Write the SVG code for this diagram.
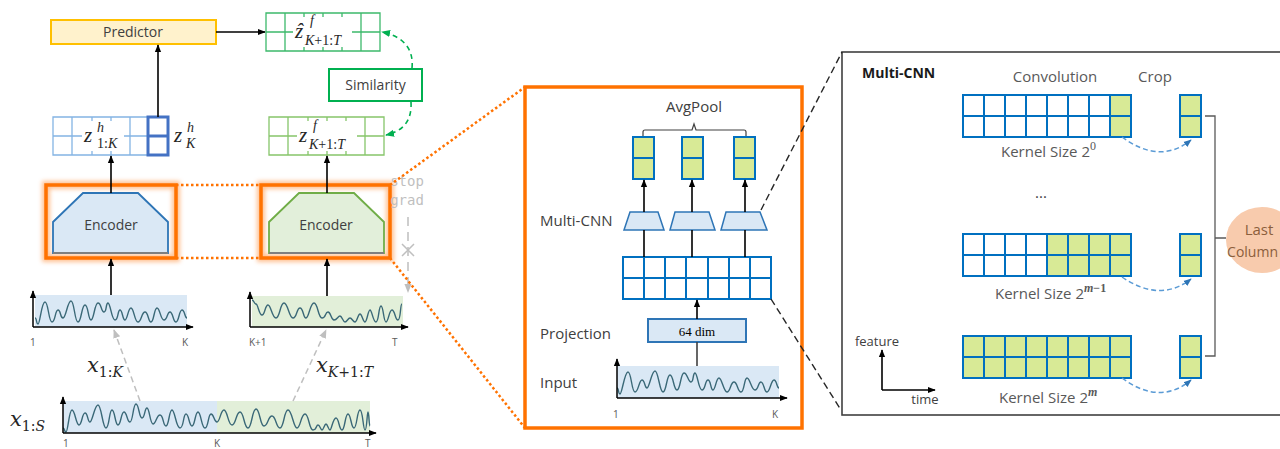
<svg xmlns="http://www.w3.org/2000/svg" xmlns:xlink="http://www.w3.org/1999/xlink" width="1280" height="449" viewBox="0 0 1280 449">
<style>
.t{font-family:"Open Sans","Noto Sans",sans-serif;fill:#404040}
.m{font-family:"Liberation Serif","DejaVu Serif",serif;font-style:italic;fill:#262626}
.mx{font-family:"DejaVu Serif","Liberation Serif",serif;font-style:italic;fill:#262626}
.up{font-style:normal}
.sm{font-family:"Open Sans","Noto Sans",sans-serif;fill:#595959;font-size:10px}
.ax{stroke:#000;stroke-width:1.5;fill:none}
.wave{fill:none;stroke:#3a6877;stroke-width:1.4}
.bl{stroke:#0070c0;stroke-width:2;fill:none}
.arr{stroke:#000;stroke-width:1.6;fill:none}
.gd{stroke:#bfbfbf;stroke-width:1.5;fill:none;stroke-dasharray:6 4}
.od{stroke:#ff7200;stroke-width:2.5;fill:none;stroke-dasharray:2.5 2.5}
.ob{stroke:#ff7200;stroke-width:3.5;fill:none}
.glow{stroke:#ffa766;stroke-width:8;fill:none;opacity:.7}
.bd{stroke:#5b9bd5;stroke-width:1.5;fill:none;stroke-dasharray:5 3}
.kd{stroke:#262626;stroke-width:1.4;fill:none;stroke-dasharray:7 4}
</style>
<defs>
<filter id="blur" x="-20%" y="-30%" width="140%" height="160%"><feGaussianBlur stdDeviation="2.2"/></filter>
<marker id="ab" viewBox="0 0 10 10" refX="9" refY="5" markerWidth="8" markerHeight="8" markerUnits="userSpaceOnUse" orient="auto"><path d="M0,1 L10,5 L0,9 z" fill="#000"/></marker>
<marker id="ag" viewBox="0 0 10 10" refX="9" refY="5" markerWidth="9" markerHeight="9" markerUnits="userSpaceOnUse" orient="auto"><path d="M0,1 L10,5 L0,9 z" fill="#bfbfbf"/></marker>
<marker id="agr" viewBox="0 0 10 10" refX="9" refY="5" markerWidth="9" markerHeight="9" markerUnits="userSpaceOnUse" orient="auto"><path d="M0,1 L10,5 L0,9 z" fill="#00b050"/></marker>
<marker id="abl" viewBox="0 0 10 10" refX="9" refY="5" markerWidth="8" markerHeight="8" markerUnits="userSpaceOnUse" orient="auto"><path d="M0,1 L10,5 L0,9 z" fill="#2e75b6"/></marker>
<g id="g8"><path d="M0,0H168V42H0Z M21,0V42M42,0V42M63,0V42M84,0V42M105,0V42M126,0V42M147,0V42M0,21H168" class="bl"/></g>
<g id="cropbox"><rect width="21" height="42" fill="#d8ea96" stroke="#0070c0" stroke-width="2"/><path d="M0,21H21" class="bl"/></g>
</defs>
<rect width="1280" height="449" fill="#fff"/>

<!-- left: plots -->
<g id="plot-hist">
<rect x="35" y="295" width="152" height="32" fill="#dae8f5"/>
<path class="wave" d="M35,318 C37,318 36,324 38,324 S41.5,302 45,302 S48.5,322 52,322 S55,310 58,310 S60,318 63,318 S67.5,301 71,301 S74.5,322 78,322 S81.5,305 85,305 S88,320 91,320 S94.5,303 98,303 S101,312 104,312 S105.5,303 108,303 S111.5,320 115,320 S117.5,310 120,310 S122.5,320 125,320 S128,308 131,308 S134.5,322 138,322 S141.5,312 145,312 S148,322 151,322 S154,308 157,308 S160.5,320 164,320 S167,312 170,312 S173,322 176,322 S179,310 182,310 S184.5,318 187,318"/>
<path class="ax" d="M33,327V291" marker-end="url(#ab)"/>
<path class="ax" d="M33,327H193" marker-end="url(#ab)"/>
<text class="sm" x="30" y="346">1</text>
<text class="sm" x="182" y="346">K</text>
</g>
<g id="plot-fut">
<rect x="252" y="296" width="151" height="31" fill="#e2efd9"/>
<path class="wave" d="M252,300 C254,300 254,304 256,304 S259,315 262,315 S265,305 268,305 S272,318 276,318 S280,303 284,303 S289,318 293,318 S296.5,308 300,308 S303,318 306,318 S310,303 314,303 S318,318 322,318 S325,312 328,312 S331,320 334,320 S338,316 340,316 S343,322 345,322 S348,318 350,318 S353,322 355,322 S358,314 360,314 S363,322 365,322 S368,310 370,310 S373,322 376,322 S378.5,306 381,306 S383.5,322 386,322 S389,310 392,310 S395,320 398,320 S400,304 402,304"/>
<path class="ax" d="M250,327V292" marker-end="url(#ab)"/>
<path class="ax" d="M250,327H408" marker-end="url(#ab)"/>
<text class="sm" x="249" y="346">K+1</text>
<text class="sm" x="392" y="346">T</text>
</g>
<g id="plot-full">
<rect x="63" y="401" width="154" height="32" fill="#dae8f5"/>
<rect x="217" y="401" width="153" height="32" fill="#e2efd9"/>
<path class="wave" d="M63,428 C65,428 64,432 66,432 S69,410 72,410 S76,425 79,425 S82,413 85,413 S87.5,422 90,422 S94.5,405 98,405 S102.5,428 106,428 S109,410 112,410 S115,425 118,425 S121,412 124,412 S127,422 130,422 S133,404 136,404 S139,418 142,418 S144.5,408 147,408 S150,424 153,424 S156.5,415 160,415 S163,426 166,426 S169,410 172,410 S176,428 180,428 S183,414 186,414 S189,426 192,426 S195,412 198,412 S201.5,428 205,428 S208,414 211,414 S214,422 217,422 S220.5,410 224,410 S228,425 232,425 S236,412 240,412 S244,428 248,428 S252,409 256,409 S260,426 264,426 S268,416 272,416 S276,428 280,428 S284,410 288,410 S293.5,428 297,428 S301,414 305,414 S309,430 313,430 S316,425 318,425 S320.5,430 322,430 S324.5,424 326,424 S328.5,430 330,430 S333,418 336,418 S339,430 342,430 S345,414 348,414 S351,428 354,428 S357,410 360,410 S363,430 365,430 S367,412 368,412 S369,426 370,426"/>
<path class="ax" d="M63,433V397" marker-end="url(#ab)"/>
<path class="ax" d="M63,433H376" marker-end="url(#ab)"/>
<text class="sm" x="63" y="447" font-size="9">1</text>
<text class="sm" x="214" y="447" font-size="9">K</text>
<text class="sm" x="365" y="447" font-size="9">T</text>
</g>
<g id="lbl-x">
<text class="mx" x="10" y="426" font-size="21">x<tspan font-size="14" dy="5"><tspan class="up">1:</tspan>S</tspan></text>
<text class="mx" x="87" y="372" font-size="21">x<tspan font-size="14" dy="5"><tspan class="up">1:</tspan>K</tspan></text>
<text class="mx" x="316" y="372" font-size="21">x<tspan font-size="14" dy="5">K<tspan class="up">+1:</tspan>T</tspan></text>
</g>

<!-- encoders -->
<g id="enc-left">
<rect x="46" y="185" width="130" height="73" class="glow" filter="url(#blur)"/>
<polygon points="53,253 53,222 83,193 138,193 168,222 168,253" fill="#dae8f5" stroke="#2e75b6" stroke-width="1.8"/>
<path d="M53,253H168" stroke="#7f7f7f" stroke-width="1.8"/>
<rect x="46" y="185" width="130" height="73" class="ob"/>
<text class="t" x="111" y="230" font-size="14" text-anchor="middle">Encoder</text>
</g>
<g id="enc-right">
<rect x="261" y="185" width="129" height="73" class="glow" filter="url(#blur)"/>
<polygon points="269,253 269,222 299,193 354,193 384,222 384,253" fill="#e2efda" stroke="#70ad47" stroke-width="1.8"/>
<path d="M269,253H384" stroke="#7f7f7f" stroke-width="1.8"/>
<rect x="261" y="185" width="129" height="73" class="ob"/>
<text class="t" x="326" y="230" font-size="14" text-anchor="middle">Encoder</text>
</g>

<!-- z grids -->
<g id="z-hist">
<path d="M53,117H148V155H53Z M72,117V155M92,117V155M111,117V155M130,117V155M53,136H148" fill="#fff" stroke="#84b4e4" stroke-width="1.3"/>
<rect x="82" y="121" width="42" height="30" fill="#fff"/>
<text class="m" x="84" y="142" font-size="21">z</text>
<text class="m" x="97" y="132" font-size="14">h</text>
<text class="m" x="97" y="148" font-size="14"><tspan class="up">1:</tspan>K</text>
<rect x="148" y="117" width="20" height="38" fill="#fff" stroke="#4472c4" stroke-width="3"/>
<path d="M148,136H168" stroke="#4472c4" stroke-width="3"/>
<text class="m" x="174" y="142" font-size="21">z</text>
<text class="m" x="187" y="132" font-size="14">h</text>
<text class="m" x="186" y="148" font-size="14">K</text>
</g>
<g id="z-pred">
<path d="M266,13H380V51H266Z M285,13V51M304,13V51M323,13V51M342,13V51M361,13V51M266,32H380" fill="#fff" stroke="#3cb96b" stroke-width="1.3"/>
<rect x="293" y="17" width="59" height="30" fill="#fff"/>
<text class="m" x="295" y="38" font-size="21">z</text>
<text class="m" x="296" y="38" font-size="21">ˆ</text>
<text class="m" x="310" y="25" font-size="14">f</text>
<text class="m" x="305" y="45" font-size="14">K<tspan class="up">+1:</tspan>T</text>
</g>
<g id="z-fut">
<path d="M269,117H384V155H269Z M288,117V155M308,117V155M327,117V155M346,117V155M365,117V155M269,136H384" fill="#fff" stroke="#86c56a" stroke-width="1.3"/>
<rect x="297" y="121" width="60" height="30" fill="#fff"/>
<text class="m" x="299" y="142" font-size="21">z</text>
<text class="m" x="313" y="130" font-size="14">f</text>
<text class="m" x="309" y="149" font-size="14">K<tspan class="up">+1:</tspan>T</text>
</g>
<g id="predictor">
<rect x="51" y="20" width="165" height="24" fill="#fff2cc" stroke="#ffc000" stroke-width="2"/>
<text class="t" x="133" y="37" font-size="14" text-anchor="middle">Predictor</text>
</g>
<g id="similarity">
<rect x="329" y="69" width="93" height="32" fill="#fff" stroke="#00b050" stroke-width="2"/>
<text class="t" x="375.5" y="90" font-size="14" text-anchor="middle">Similarity</text>
</g>
<g id="stopgrad">
<text x="407" y="186" font-family="DejaVu Sans Mono,Liberation Mono,monospace" font-size="14" fill="#bfbfbf" text-anchor="middle">stop</text>
<text x="407" y="205" font-family="DejaVu Sans Mono,Liberation Mono,monospace" font-size="14" fill="#bfbfbf" text-anchor="middle">grad</text>
</g>

<!-- middle panel -->
<g id="panel-mid">
<rect x="525" y="87" width="277" height="341" class="ob" stroke-width="4"/>
<text class="t" x="694" y="112" font-size="15" text-anchor="middle">AvgPool</text>
<path d="M643,136V132Q643,130 645,130H692L694,124L696,130H744Q746,130 746,132V136" stroke="#404040" stroke-width="1.2" fill="none"/>
<use href="#cropbox" x="633" y="137"/>
<use href="#cropbox" x="682" y="137"/>
<use href="#cropbox" x="734" y="137"/>
<text class="t" x="540" y="226" font-size="15">Multi-CNN</text>
<polygon points="630,212 658,212 664,230 624,230" fill="#dae8f5" stroke="#2e75b6" stroke-width="1.5"/>
<polygon points="675,212 709,212 715,230 670,230" fill="#dae8f5" stroke="#2e75b6" stroke-width="1.5"/>
<polygon points="726,212 760,212 767,230 721,230" fill="#dae8f5" stroke="#2e75b6" stroke-width="1.5"/>
<rect x="623" y="257" width="148" height="42" fill="#fff"/>
<path d="M623,257H771V299H623Z M644,257V299M665,257V299M686,257V299M708,257V299M729,257V299M750,257V299M623,278H771" class="bl"/>
<text class="t" x="540" y="339" font-size="15">Projection</text>
<rect x="648" y="319" width="98" height="23" fill="#dae8f5" stroke="#2e75b6" stroke-width="2"/>
<text x="697" y="336" font-family="Liberation Serif,serif" font-size="13" fill="#000" text-anchor="middle">64 dim</text>
<text class="t" x="540" y="388" font-size="15">Input</text>
<rect x="617" y="366" width="162" height="32" fill="#dae8f5"/>
<path class="wave" d="M617,388 C619,388 618,394 620,394 S624.5,372 628,372 S631.5,392 635,392 S639,380 642,380 S644.5,388 647,388 S651.5,371 655,371 S659.5,392 663,392 S666.5,375 670,375 S673.5,390 677,390 S680.5,373 684,373 S688,382 691,382 S692.5,373 695,373 S698.5,390 702,390 S705,380 708,380 S710.5,390 713,390 S716,378 719,378 S723.5,392 727,392 S730.5,382 734,382 S737.5,392 741,392 S744,378 747,378 S751.5,390 755,390 S758,382 761,382 S764,392 767,392 S771,380 774,380 S776.5,388 779,388"/>
<path class="ax" d="M617,398V359" marker-end="url(#ab)"/>
<path class="ax" d="M617,398H787" marker-end="url(#ab)"/>
<text class="sm" x="613" y="418" font-size="11">1</text>
<text class="sm" x="772" y="418" font-size="11">K</text>
</g>

<!-- right panel -->
<g id="panel-right">
<rect x="842" y="52" width="460" height="363" fill="none" stroke="#404040" stroke-width="1.6"/>
<text class="t" x="862" y="78" font-size="14" font-weight="bold" style="fill:#1a1a1a">Multi-CNN</text>
<text class="t" x="1055" y="82" font-size="15" text-anchor="middle" style="fill:#595959">Convolution</text>
<text class="t" x="1155" y="82" font-size="15" text-anchor="middle" style="fill:#595959">Crop</text>
</g>
<g id="conv-1">
<rect x="963" y="95" width="147" height="42" fill="#fff"/>
<rect x="1110" y="95" width="21" height="42" fill="#d8ea96"/>
<use href="#g8" x="963" y="95"/>
<use href="#cropbox" x="1180" y="95"/>
<text class="t" x="1001" y="157" font-size="15" style="fill:#595959">Kernel Size 2<tspan font-size="12" dy="-7" font-family="Liberation Serif,serif">0</tspan></text>
</g>
<text class="t" x="1041" y="198" font-size="15" text-anchor="middle" style="fill:#404040">...</text>
<g id="conv-2">
<rect x="963" y="234" width="84" height="42" fill="#fff"/>
<rect x="1047" y="234" width="84" height="42" fill="#d8ea96"/>
<use href="#g8" x="963" y="234"/>
<use href="#cropbox" x="1180" y="234"/>
<text class="t" x="995" y="299" font-size="15" style="fill:#595959">Kernel Size 2<tspan font-size="12" dy="-7" font-family="Liberation Serif,serif" font-style="italic" font-weight="bold">m</tspan><tspan font-size="12" font-family="Liberation Serif,serif" font-weight="bold">−1</tspan></text>
</g>
<g id="conv-3">
<rect x="963" y="336" width="168" height="42" fill="#d8ea96"/>
<use href="#g8" x="963" y="336"/>
<use href="#cropbox" x="1180" y="336"/>
<text class="t" x="999" y="403" font-size="15" style="fill:#595959">Kernel Size 2<tspan font-size="12" dy="-7" font-family="Liberation Serif,serif" font-style="italic" font-weight="bold">m</tspan></text>
</g>
<g id="last-column">
<ellipse cx="1262" cy="240" rx="36" ry="33" fill="#f8cbad"/>
<text class="t" x="1259" y="235" font-size="15" text-anchor="middle" style="fill:#8b5e3c">Last</text>
<text class="t" x="1278" y="257" font-size="14" text-anchor="end" style="fill:#8b5e3c">Column</text>
</g>
<g id="axes-legend">
<path class="arr" d="M882,390V350" marker-end="url(#ab)"/>
<path class="arr" d="M882,390H935" marker-end="url(#ab)"/>
<text class="t" x="877" y="346" font-size="13" text-anchor="middle">feature</text>
<text class="t" x="925" y="404" font-size="13" text-anchor="middle">time</text>
</g>

<!-- connectors -->
<g id="connectors">
<path class="arr" d="M158,117V45" marker-end="url(#ab)"/>
<path class="arr" d="M216,32H265" marker-end="url(#ab)"/>
<path class="arr" d="M111,193V156" marker-end="url(#ab)"/>
<path class="arr" d="M327,193V156" marker-end="url(#ab)"/>
<path class="arr" d="M111,295V259" stroke="#404040" marker-end="url(#ab)"/>
<path class="arr" d="M327,296V259" stroke="#404040" marker-end="url(#ab)"/>
<path class="gd" d="M140,401L114,330" marker-end="url(#ag)"/>
<path class="gd" d="M293,401L326,330" marker-end="url(#ag)"/>
<path d="M412,68C414,48 402,36 382,32" stroke="#00b050" stroke-width="1.6" fill="none" stroke-dasharray="5 4" marker-end="url(#agr)"/>
<path d="M411,102C412,120 404,131 386,135" stroke="#00b050" stroke-width="1.6" fill="none" stroke-dasharray="5 4" marker-end="url(#agr)"/>
<path d="M408,217V292" stroke="#bfbfbf" stroke-width="1.5" fill="none" stroke-dasharray="9 6" marker-end="url(#ag)"/>
<path d="M402,244L414,256M414,244L402,256" stroke="#bfbfbf" stroke-width="1.5"/>
<path class="od" d="M176,185H261M176,258H261" stroke-width="3.5" stroke-dasharray="3.5 3.5"/>
<path class="od" d="M390,185L525,87M390,258L525,428"/>
<path class="arr" d="M644,212V180" marker-end="url(#ab)"/>
<path class="arr" d="M692,212V180" marker-end="url(#ab)"/>
<path class="arr" d="M745,212V180" marker-end="url(#ab)"/>
<path class="arr" d="M644,257V230M692,257V230M745,257V230"/>
<path class="arr" d="M697,319V300" marker-end="url(#ab)"/>
<path d="M697,342V366" stroke="#404040" stroke-width="1.6"/>
<path class="kd" d="M761,210L842,52M771,299L841,410"/>
<path class="bd" d="M1122,137Q1160,165 1191,140" marker-end="url(#abl)"/>
<path class="bd" d="M1122,277Q1160,303 1191,279" marker-end="url(#abl)"/>
<path class="bd" d="M1122,378Q1160,406 1191,380" marker-end="url(#abl)"/>
<path d="M1205,116H1215V356H1205M1215,238H1226" stroke="#595959" stroke-width="1.3" fill="none"/>
</g>
</svg>
